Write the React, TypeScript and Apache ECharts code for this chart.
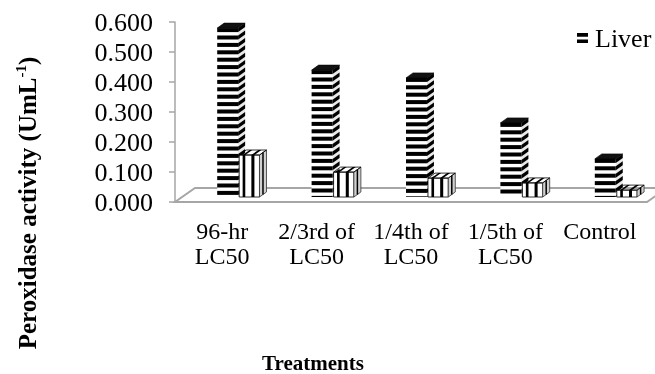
import React, { useEffect, useRef } from 'react';
import * as echarts from 'echarts';

const categories = ['96-hr\nLC50', '2/3rd of\nLC50', '1/4th of\nLC50', '1/5th of\nLC50', 'Control'];
const liverValues = [0.563, 0.423, 0.397, 0.247, 0.127];
const secondValues = [0.14, 0.083, 0.063, 0.047, 0.023];
const yMin = 0;
const yMax = 0.6;
const yStep = 0.1;

const FONT = 'Liberation Serif, Times New Roman, serif';
const DX = 7;
const DY = -5;
const FLOOR_DX = 20;
const FLOOR_DY = -14;
const LIFT = 5;

function liverItem(params: any, api: any) {
  const i = api.value(0);
  const v = api.value(1);
  const top = api.coord([i, v]);
  const base = api.coord([i, 0]);
  const bw = api.size([1, 0])[0];
  const w = bw * 0.222;
  const x0 = base[0] - bw * 0.053;
  const x1 = x0 + w;
  const yB = base[1] - LIFT;
  const yT = top[1] - LIFT;
  const children: any[] = [];
  if (params.dataIndex === 0) {
    const left = base[0] - bw / 2;
    const last = api.coord([categories.length - 1, 0]);
    const right = last[0] + bw / 2;
    const fy = base[1];
    children.push({
      type: 'polygon',
      shape: { points: [[left, fy], [right, fy], [right + FLOOR_DX, fy + FLOOR_DY], [left + FLOOR_DX, fy + FLOOR_DY]] },
      style: { fill: 'none', stroke: '#a6a6a6', lineWidth: 2 },
    });
  }
  children.push({ type: 'rect', shape: { x: x0, y: yT, width: w, height: yB - yT }, style: { fill: '#fff' } });
  children.push({
    type: 'polygon',
    shape: { points: [[x1, yT], [x1 + DX, yT + DY], [x1 + DX, yB + DY], [x1, yB]] },
    style: { fill: '#e8e8e8' },
  });
  const P = 7.4;
  const H = 4;
  for (let y = yT; y < yB - 0.5; y += P) {
    const h = Math.min(H, yB - y);
    children.push({ type: 'rect', shape: { x: x0, y, width: w, height: h }, style: { fill: '#000' } });
    children.push({
      type: 'polygon',
      shape: { points: [[x1, y], [x1 + DX, y + DY], [x1 + DX, y + DY + h], [x1, y + h]] },
      style: { fill: '#000' },
    });
  }
  children.push({
    type: 'polygon',
    shape: { points: [[x0, yT], [x1, yT], [x1 + DX, yT + DY], [x0 + DX, yT + DY]] },
    style: { fill: '#111', stroke: '#000', lineWidth: 0.6 },
  });
  return { type: 'group', children };
}

function secondItem(params: any, api: any) {
  const i = api.value(0);
  const v = api.value(1);
  const top = api.coord([i, v]);
  const base = api.coord([i, 0]);
  const bw = api.size([1, 0])[0];
  const w = bw * 0.215;
  const x0 = base[0] + bw * 0.18;
  const x1 = x0 + w;
  const yB = base[1] - LIFT;
  const yT = top[1] - LIFT;
  const children: any[] = [];
  children.push({
    type: 'rect',
    shape: { x: x0, y: yT, width: w, height: yB - yT },
    style: { fill: '#fff', stroke: '#000', lineWidth: 0.8 },
  });
  children.push({
    type: 'polygon',
    shape: { points: [[x1, yT], [x1 + DX, yT + DY], [x1 + DX, yB + DY], [x1, yB]] },
    style: { fill: '#d0d0d0', stroke: '#333', lineWidth: 0.8 },
  });
  const stripes = [[0.17, 0.13], [0.6, 0.15]];
  stripes.forEach(([o, sw]) => {
    const sx = x0 + w * o;
    const swp = w * sw;
    children.push({ type: 'rect', shape: { x: sx, y: yT, width: swp, height: yB - yT }, style: { fill: '#000' } });
    children.push({
      type: 'polygon',
      shape: { points: [[sx, yT], [sx + swp, yT], [sx + swp + DX, yT + DY], [sx + DX, yT + DY]] },
      style: { fill: '#000' },
    });
  });
  children.push({
    type: 'line',
    shape: { x1: x1 + DX * 0.5, y1: yT + DY * 0.5, x2: x1 + DX * 0.5, y2: yB + DY * 0.5 },
    style: { stroke: '#000', lineWidth: 1.5 },
  });
  children.push({
    type: 'polygon',
    shape: { points: [[x0, yT], [x1, yT], [x1 + DX, yT + DY], [x0 + DX, yT + DY]] },
    style: { fill: 'none', stroke: '#000', lineWidth: 0.8 },
  });
  return { type: 'group', children };
}

export default function App() {
  const ref = useRef<HTMLDivElement>(null);
  useEffect(() => {
    document.body.style.margin = '0';
    if (!ref.current) return;
    const chart = echarts.init(ref.current, null, { renderer: 'svg' });
    chart.setOption({
      animation: false,
      color: ['#000', '#000'],
      textStyle: { fontFamily: FONT },
      grid: { left: 175, right: 8, top: 22, bottom: 172, containLabel: false },
      legend: {
        data: [{ name: 'Liver', icon: 'path://M0,0H12V4H0ZM0,7H12V11H0Z' }],
        left: 572,
        top: 20,
        itemWidth: 11,
        itemHeight: 11,
        itemGap: 10,
        selectedMode: false,
        textStyle: { fontFamily: FONT, fontSize: 26, color: '#000', padding: [0, 0, 0, 2] },
      },
      xAxis: {
        type: 'category',
        data: categories,
        axisLine: { show: false },
        axisTick: { show: false },
        axisLabel: { interval: 0, fontFamily: FONT, fontSize: 24, lineHeight: 25, color: '#000', margin: 16 },
      },
      yAxis: {
        type: 'value',
        min: yMin,
        max: yMax,
        interval: yStep,
        splitLine: { show: false },
        axisLine: { show: true, lineStyle: { color: '#a6a6a6', width: 1.5 } },
        axisTick: { show: true, length: 6, lineStyle: { color: '#a6a6a6', width: 1.5 } },
        axisLabel: {
          formatter: (val: number) => val.toFixed(3),
          fontFamily: FONT,
          fontSize: 26,
          color: '#000',
          margin: 22,
        },
      },
      graphic: [
        {
          type: 'text',
          x: 27,
          y: 203,
          rotation: Math.PI / 2,
          style: {
            text: '{b|Peroxidase activity (UmL}{s|-1}{b|)}',
            align: 'center',
            verticalAlign: 'middle',
            rich: {
              b: { fontFamily: FONT, fontSize: 25, fontWeight: 'bold', fill: '#000', lineHeight: 28 },
              s: { fontFamily: FONT, fontSize: 15, fontWeight: 'bold', fill: '#000', verticalAlign: 'top', lineHeight: 28 },
            },
          },
        },
        {
          type: 'text',
          x: 313,
          y: 363,
          style: {
            text: 'Treatments',
            fontFamily: FONT,
            fontSize: 21,
            fontWeight: 'bold',
            fill: '#000',
            align: 'center',
            verticalAlign: 'middle',
          },
        },
      ],
      series: [
        {
          name: 'Liver',
          type: 'custom',
          renderItem: liverItem,
          itemStyle: { color: '#000' },
          encode: { x: 0, y: 1 },
          data: liverValues.map((v, i) => [i, v]),
        },
        {
          name: 'Gills',
          type: 'custom',
          renderItem: secondItem,
          itemStyle: { color: '#000' },
          encode: { x: 0, y: 1 },
          data: secondValues.map((v, i) => [i, v]),
        },
      ],
    });
    return () => chart.dispose();
  }, []);
  return <div ref={ref} style={{ width: 655, height: 374, position: 'fixed', left: 0, top: 0 }} />;
}
